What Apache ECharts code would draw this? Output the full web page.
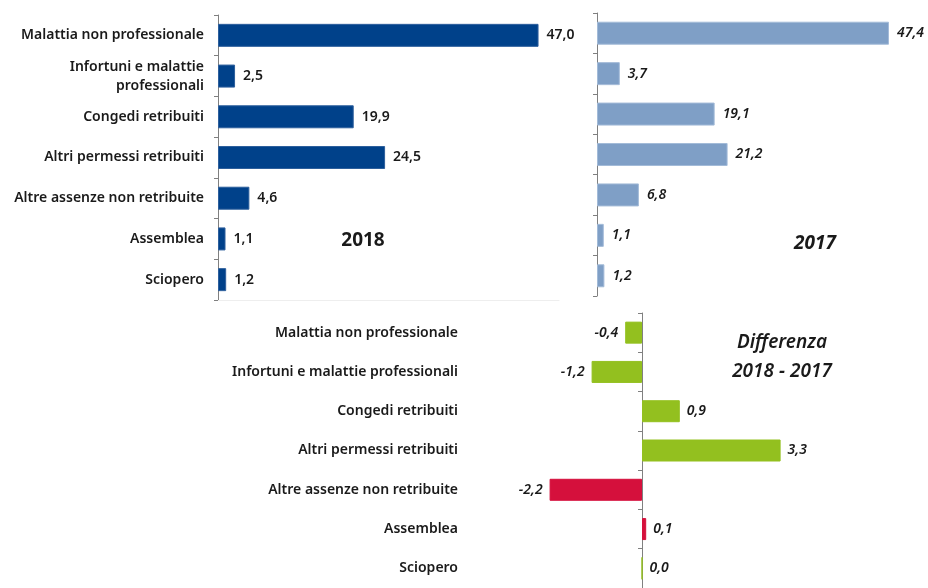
<!DOCTYPE html>
<html>
<head>
<meta charset="utf-8">
<title>Assenze 2018 - 2017</title>
<script src="https://cdn.jsdelivr.net/npm/echarts@6/dist/echarts.min.js"></script>
<style>
  html, body { margin: 0; padding: 0; background: #ffffff; }
  #chart { width: 928px; height: 588px; }
</style>
</head>
<body>
<div id="chart"></div>
<script>
// Absence categories (same order in all three panels, top to bottom)
const categories = [
  'Malattia non professionale',
  'Infortuni e malattie professionali',
  'Congedi retribuiti',
  'Altri permessi retribuiti',
  'Altre assenze non retribuite',
  'Assemblea',
  'Sciopero'
];
// Axis labels of the upper panel (long name wrapped on two lines)
const topCategoryLabels = [
  'Malattia non professionale',
  'Infortuni e malattie\nprofessionali',
  'Congedi retribuiti',
  'Altri permessi retribuiti',
  'Altre assenze non retribuite',
  'Assemblea',
  'Sciopero'
];
// Percent shares by year
const values2018 = [47.0, 2.5, 19.9, 24.5, 4.6, 1.1, 1.2];
const values2017 = [47.4, 3.7, 19.1, 21.2, 6.8, 1.1, 1.2];
// Difference 2018 - 2017 in percentage points
const valuesDiff = [-0.4, -1.2, 0.9, 3.3, -2.2, 0.1, 0.0];
// Categories drawn in red in the difference panel
const diffRedCategories = ['Altre assenze non retribuite', 'Assemblea'];

const FONT = '"Noto Sans", "Open Sans", sans-serif';
const TEXT = '#1a1a1a';
const AXIS = '#808080';
const BLUE18 = '#00418a';
const BLUE17 = '#7f9fc6';
const GREEN = '#93c01f';
const RED = '#d5103c';

const fmt = v => v.toFixed(1).replace('.', ',');

const chart = echarts.init(document.getElementById('chart'), null, { renderer: 'canvas' });

function categoryAxis(gridIndex, labels, opts) {
  return Object.assign({
    type: 'category',
    gridIndex: gridIndex,
    data: labels,
    inverse: true,
    boundaryGap: true,
    axisLine: { show: true, onZero: false, lineStyle: { color: AXIS, width: 1 } },
    axisTick: { show: true, length: 4, alignWithLabel: false, lineStyle: { color: AXIS } },
    axisLabel: { show: false },
    splitLine: { show: false }
  }, opts);
}

function valueAxis(gridIndex, min, max, faint) {
  return {
    type: 'value',
    gridIndex: gridIndex,
    min: min,
    max: max,
    axisLabel: { show: false },
    axisTick: { show: false },
    splitLine: { show: false },
    axisLine: { show: !!faint, onZero: false, lineStyle: { color: '#eeeeee', width: 1 } }
  };
}

const diffData = valuesDiff.map((v, i) => ({
  value: v,
  itemStyle: {
    color: diffRedCategories.indexOf(categories[i]) >= 0 ? RED : GREEN,
    borderColor: diffRedCategories.indexOf(categories[i]) >= 0 ? RED : GREEN,
    borderWidth: 1
  },
  label: { position: v < 0 ? 'left' : 'right' }
}));

const labelBase = { color: TEXT, fontFamily: FONT, fontSize: 14, fontWeight: 600 };

const option = {
  animation: false,
  backgroundColor: '#ffffff',
  textStyle: { fontFamily: FONT },
  grid: [
    { left: 218, top: 15, width: 341, height: 285 },
    { left: 597, top: 13, width: 308, height: 283 },
    { left: 474, top: 313, width: 336, height: 281 }
  ],
  xAxis: [
    valueAxis(0, 0, 50, true),
    valueAxis(1, 0, 50, false),
    valueAxis(2, -4, 4, false)
  ],
  yAxis: [
    categoryAxis(0, topCategoryLabels, {
      axisLabel: Object.assign({ show: true, margin: 14, lineHeight: 19, align: 'right' }, labelBase)
    }),
    categoryAxis(1, categories, {}),
    categoryAxis(2, categories, {
      axisLine: { show: false, onZero: false },
      axisTick: { show: false },
      axisLabel: Object.assign({ show: true, margin: 16, align: 'right' }, labelBase)
    }),
    categoryAxis(2, categories, {
      position: 'left',
      axisLine: { show: true, onZero: true, lineStyle: { color: AXIS, width: 1 } }
    })
  ],
  series: [
    {
      type: 'bar',
      name: '2018',
      xAxisIndex: 0,
      yAxisIndex: 0,
      data: values2018,
      barWidth: 23,
      itemStyle: { color: BLUE18, borderColor: '#2d5f9c', borderWidth: 1 },
      label: Object.assign({
        show: true, position: 'right', distance: 8,
        formatter: p => fmt(p.value)
      }, labelBase)
    },
    {
      type: 'bar',
      name: '2017',
      xAxisIndex: 1,
      yAxisIndex: 1,
      data: values2017,
      barWidth: 23,
      itemStyle: { color: BLUE17, borderColor: '#a3bbd8', borderWidth: 1 },
      label: Object.assign({
        show: true, position: 'right', distance: 8, fontStyle: 'italic',
        formatter: p => fmt(p.value)
      }, labelBase)
    },
    {
      type: 'bar',
      name: 'Differenza',
      xAxisIndex: 2,
      yAxisIndex: 3,
      data: diffData,
      barWidth: 22,
      label: Object.assign({
        show: true, distance: 7, fontStyle: 'italic',
        formatter: p => fmt(p.value)
      }, labelBase)
    }
  ],
  graphic: [
    {
      type: 'text', x: 363, y: 241,
      style: {
        text: '2018', fill: TEXT, font: 'bold 19px ' + FONT,
        textAlign: 'center', textVerticalAlign: 'middle'
      }
    },
    {
      type: 'text', x: 815, y: 244,
      style: {
        text: '2017', fill: TEXT, font: 'italic bold 19px ' + FONT,
        textAlign: 'center', textVerticalAlign: 'middle'
      }
    },
    {
      type: 'text', x: 782, y: 343,
      style: {
        text: 'Differenza', fill: TEXT, font: 'italic 600 19px ' + FONT,
        textAlign: 'center', textVerticalAlign: 'middle'
      }
    },
    {
      type: 'text', x: 782, y: 372,
      style: {
        text: '2018 - 2017', fill: TEXT, font: 'italic 600 19px ' + FONT,
        textAlign: 'center', textVerticalAlign: 'middle'
      }
    }
  ]
};

chart.setOption(option);
</script>
</body>
</html>
